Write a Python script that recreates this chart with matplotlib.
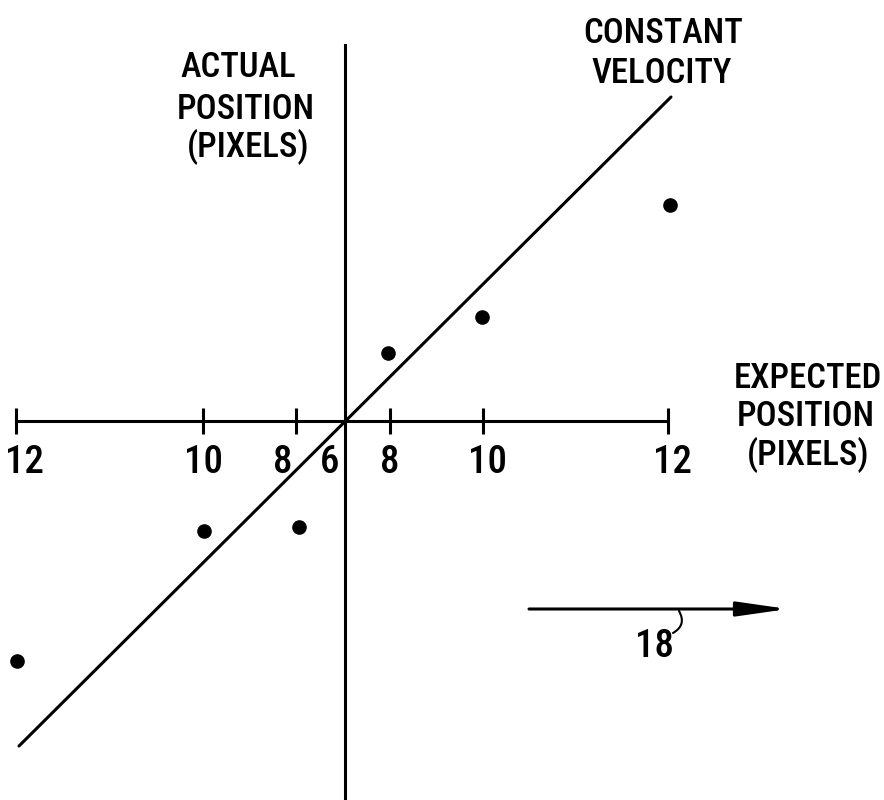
import matplotlib
matplotlib.use('Agg')
import matplotlib.pyplot as plt

# ---- data (drawing units: pixels relative to the axis crossing) ----
tick_pos = [-329, -142, -49, 45, 138, 323]
tick_label_pos = [-321, -142, -62, -15, 45, 142, 327]
tick_labels = ['12', '10', '8', '6', '8', '10', '12']

expected_pos = [-328, -141, -46, 43, 137, 325]
actual_pos = [-240, -110, -106, 68, 104, 216]

cv_x = [-326, 326]
cv_y = [-325, 324]

y_label_lines = ['ACTUAL', 'POSITION', '(PIXELS)']
x_label_lines = ['EXPECTED', 'POSITION', '(PIXELS)']
cv_label_lines = ['CONSTANT', 'VELOCITY']
ref_label = '18'

plt.rcParams['font.family'] = ['Roboto Condensed', 'Liberation Sans Narrow',
                               'DejaVu Sans Condensed', 'Roboto', 'DejaVu Sans']
plt.rcParams['font.stretch'] = 'condensed'
FS = 25
FS_NUM = 28
WEIGHT = 'medium'
LW = 2.2

fig = plt.figure(figsize=(8.84, 8.0), dpi=100)
ax = fig.add_axes([0, 0, 1, 1])
ax.set_xlim(-345, 539)
ax.set_ylim(-379, 421)
ax.patch.set_visible(False)

for s in ['top', 'right']:
    ax.spines[s].set_visible(False)
ax.spines['bottom'].set_position(('data', 0))
ax.spines['left'].set_position(('data', 0))
ax.spines['bottom'].set_bounds(-329, 323)
ax.spines['left'].set_bounds(-379, 376)
ax.spines['bottom'].set_linewidth(LW)
ax.spines['left'].set_linewidth(LW)

ax.set_xticks(tick_pos)
ax.set_xticklabels([])
ax.set_yticks([])
ax.tick_params(axis='x', direction='inout', length=19, width=LW, color='black')

for x, lab in zip(tick_label_pos, tick_labels):
    ax.text(x, -52, lab, ha='center', va='baseline', fontsize=FS_NUM,
            fontweight=WEIGHT)

# constant velocity line
ax.plot(cv_x, cv_y, color='black', lw=LW, solid_capstyle='round')

# measured points
ax.plot(expected_pos, actual_pos, 'o', color='black', markersize=9.5, clip_on=False)

# labels
for (x, y), t in zip([(-107, 344), (-99, 302), (-97, 264)], y_label_lines):
    ax.text(x, y, t, ha='center', va='baseline', fontsize=FS, fontweight=WEIGHT)
for (x, y), t in zip([(318, 378), (317, 338)], cv_label_lines):
    ax.text(x, y, t, ha='center', va='baseline', fontsize=FS, fontweight=WEIGHT)
for (x, y), t in zip([(463, 33), (461, -5), (463, -44)], x_label_lines):
    ax.text(x, y, t, ha='center', va='baseline', fontsize=FS, fontweight=WEIGHT)

# motion arrow
ax.annotate('', xy=(443, -188), xytext=(184, -188),
            arrowprops=dict(arrowstyle='-|>,head_length=1.4,head_width=0.2',
                            mutation_scale=22, lw=LW, color='black',
                            shrinkA=0, shrinkB=0))
ax.text(310, -236, ref_label, ha='center', va='baseline', fontsize=FS_NUM,
        fontweight=WEIGHT)
ax.annotate('', xy=(334, -190), xytext=(328, -212),
            arrowprops=dict(arrowstyle='-', lw=1.5, color='black',
                            connectionstyle='arc3,rad=0.5',
                            shrinkA=0, shrinkB=0))

fig.savefig('out.png', dpi=100)
